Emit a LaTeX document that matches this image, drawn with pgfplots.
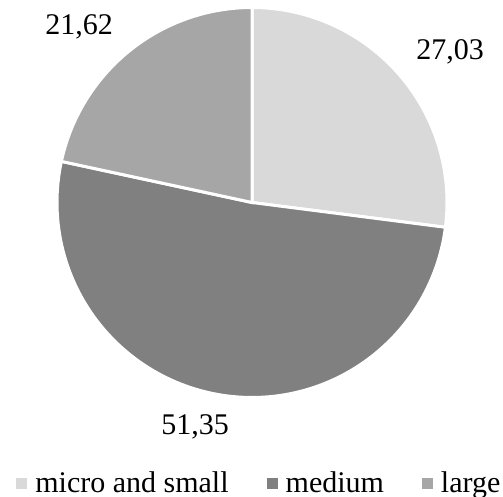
\documentclass[border=0pt]{standalone}
\usepackage{fontspec}
\setmainfont{Liberation Serif}
\usepackage{pgfplots}
\pgfplotsset{compat=1.18}
\definecolor{cmicro}{HTML}{D9D9D9}
\definecolor{cmedium}{HTML}{808080}
\definecolor{clarge}{HTML}{A6A6A6}
% data (percent)
\def\vMicro{27.03}
\def\vMedium{51.35}
\def\vLarge{21.62}
\pgfmathsetmacro{\aA}{90}%
\pgfmathsetmacro{\aB}{\aA-3.6*\vMicro}%
\pgfmathsetmacro{\aC}{\aB-3.6*\vMedium}%
\pgfmathsetmacro{\aD}{\aC-3.6*\vLarge}%
\begin{document}
\begin{tikzpicture}
\begin{axis}[
  width=251.5pt, height=248.5pt, scale only axis,
  xmin=0, xmax=503, ymin=0, ymax=497,
  hide axis, clip=false,
  legend columns=3,
  legend style={at={(axis cs:258.4,13.5)}, anchor=center, draw=none, fill=none,
    inner sep=0pt,
    font=\fontsize{15}{18}\selectfont,
    /tikz/every even column/.append style={column sep=19pt},
    nodes={inner sep=0pt}},
  legend image code/.code={\path[draw=none,fill=none] (0pt,0pt) -- (9.5pt,0pt);\fill[#1,draw=none] (0pt,-2.75pt) rectangle (5.5pt,2.75pt);},
]
\path (axis cs:0,0) (axis cs:503,497);
\addplot[fill=cmicro, draw=white, line width=1.5pt, domain=\aB:\aA, samples=80, variable=\t, forget plot]
  ({252+195*cos(\t)},{294.5+195*sin(\t)}) -- (axis cs:252,294.5) -- cycle;
\addplot[fill=cmedium, draw=white, line width=1.5pt, domain=\aC:\aB, samples=120, variable=\t, forget plot]
  ({252+195*cos(\t)},{294.5+195*sin(\t)}) -- (axis cs:252,294.5) -- cycle;
\addplot[fill=clarge, draw=white, line width=1.5pt, domain=\aD:\aC, samples=80, variable=\t, forget plot]
  ({252+195*cos(\t)},{294.5+195*sin(\t)}) -- (axis cs:252,294.5) -- cycle;
\addlegendimage{fill=cmicro}
\addlegendentry{micro and small}
\addlegendimage{fill=cmedium}
\addlegendentry{medium}
\addlegendimage{fill=clarge}
\addlegendentry{large}
\node[anchor=base, font=\fontsize{15}{18}\selectfont, inner sep=0pt] at (axis cs:450,437) {27,03};
\node[anchor=base, font=\fontsize{15}{18}\selectfont, inner sep=0pt] at (axis cs:195,62) {51,35};
\node[anchor=base, font=\fontsize{15}{18}\selectfont, inner sep=0pt] at (axis cs:79,462) {21,62};
\end{axis}
\end{tikzpicture}
\end{document}
